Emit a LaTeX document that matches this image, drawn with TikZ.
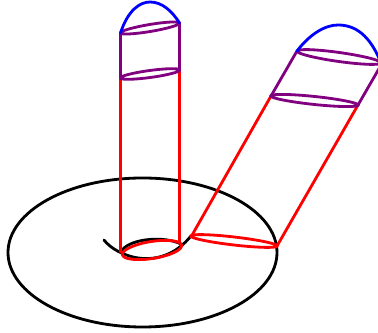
\documentclass[tikz,border=0pt]{standalone}
\usepackage{xcolor}
\definecolor{cvino}{HTML}{800080}
\tikzset{
  linea/.style={line width=1.6pt, line join=round, line cap=round},
  toro/.style={linea, draw=black},
  tubo/.style={linea, draw=red},
  banda/.style={linea, draw=cvino},
  tapa/.style={linea, draw=blue},
}
% tilted loop: style, centre, angle, radii
\newcommand{\aro}[5][banda]{%
  \draw[#1, shift={(#2)}, rotate=#3] (0,0) ellipse [x radius=#4, y radius=#5];}
\begin{document}
\begin{tikzpicture}[x=0.02cm,y=-0.02cm]
  \path[use as bounding box, clip] (0,0) rectangle (378,333);
  % rim points of both tubes
  \coordinate (a1) at (120.5,252); \coordinate (a2) at (179.5,243);
  \coordinate (b1) at (120.5,78);  \coordinate (b2) at (179.5,70);
  \coordinate (c1) at (120.5,33);  \coordinate (c2) at (179.5,23);
  \coordinate (d1) at (191,237); \coordinate (d2) at (277,246);
  \coordinate (e1) at (271,96);  \coordinate (e2) at (358,105);
  \coordinate (f1) at (297,51);  \coordinate (f2) at (381,63);
  % surface
  \draw[toro] (142.5,252.5) ellipse [x radius=134.5, y radius=74.5];
  \draw[toro] (104,240) .. controls (116,256) and (160,274) .. (191,236);
  \draw[toro] (122,250) .. controls (132,238) and (165,236) .. (181,244);
  % tubes
  \draw[tubo] (a1)--(b1); \draw[tubo] (a2)--(b2);
  \draw[tubo] (d1)--(e1); \draw[tubo] (d2)--(e2);
  \draw[banda] (b1)--(c1); \draw[banda] (b2)--(c2);
  \draw[banda] (e1)--(f1); \draw[banda] (e2)--(384,60);
  \aro[tubo]{152,250}{9}{30}{8.5}
  \aro[tubo]{234,241}{-6.6}{43.5}{4}
  \aro{150,74}{7.7}{30}{3.5}
  \aro{150,28}{9.5}{30}{3.5}
  \aro{314.5,100.5}{-6}{44}{4}
  \aro{339,57}{-8}{42.5}{4.5}
  % caps
  \draw[tapa] (c1) .. controls (128,10) and (140,2) .. (150,2) .. controls (162,2) and (172,11) .. (c2);
  \draw[tapa] (f1) .. controls (310,34) and (325,25) .. (338,25) .. controls (355,25) and (370,35) .. (f2);
\end{tikzpicture}
\end{document}
